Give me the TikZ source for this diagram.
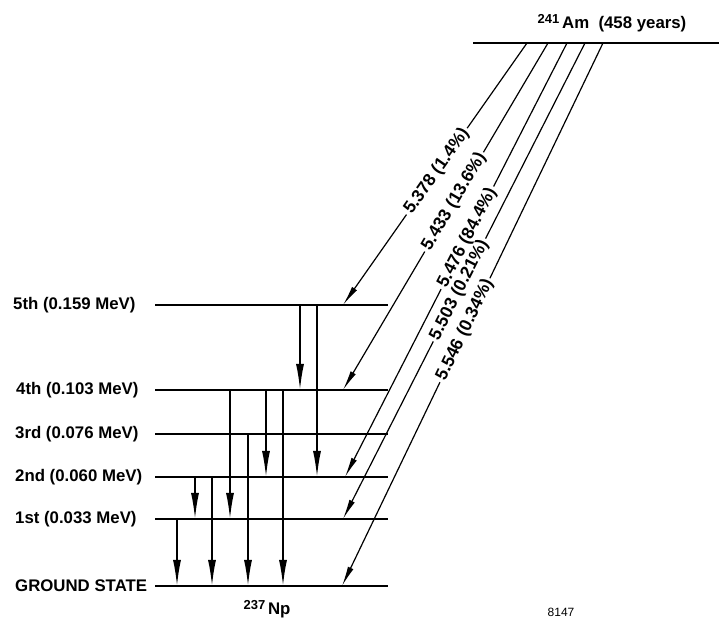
\documentclass[tikz,border=0pt]{standalone}
\usepackage{fontspec}
\setmainfont{Liberation Sans}
\usetikzlibrary{arrows.meta}
\newcommand{\isotope}[2]{\raisebox{0.5ex}{\fontsize{13}{15}\selectfont #1}\,#2}
\tikzset{
    level/.style={line width=2.4pt},
    gamma/.style={-{Latex[length=26pt,width=8pt]}, line width=1.6pt},
    alpha/.style={-{Latex[length=20pt,width=6pt]}, line width=1.2pt},
    decay/.style={sloped, inner sep=2.5pt, font=\fontsize{17.5}{20}\selectfont\bfseries},
    lvl/.style={anchor=west, inner sep=0pt, font=\fontsize{16.8}{19}\selectfont\bfseries}
}

\begin{document}
\begin{tikzpicture}[x=1pt, y=1pt]
    \useasboundingbox (0,0) rectangle (719,623);
    % Np-237 levels
    \foreach \n/\y in {0/37, 1/104, 2/146, 3/189, 4/233, 5/318} {
        \coordinate (L\n) at (155,\y); \coordinate (R\n) at (388,\y);
        \draw[level] (L\n) -- (R\n);
    }
    \node[lvl] (n5) at (13,318) {5th (0.159 MeV)};
    \node[lvl] (n4) at (16,233) {4th (0.103 MeV)};
    \node[lvl] (n3) at (15,189) {3rd (0.076 MeV)};
    \node[lvl] (n2) at (15,146) {2nd (0.060 MeV)};
    \node[lvl] (n1) at (15,104) {1st (0.033 MeV)};
    \node[lvl] (n0) at (15,37) {GROUND STATE};
    \node[font=\fontsize{16.8}{19}\selectfont\bfseries] (np) at (267,14) {\isotope{237}{Np}};
    \node[font=\fontsize{12}{14}\selectfont] (fig) at (561,11) {8147};

    % Am-241 level
    \coordinate (A) at (473,580); \coordinate (Ae) at (719,580);
    \draw[level] (A) -- (Ae);
    \node[font=\fontsize{16.8}{19}\selectfont\bfseries] (am) at (612,600) {\isotope{241}{Am}\ \ (458 years)};

    % alpha decays
    \foreach \i/\xs/\xe/\lv/\p/\txt in {1/527/343/5/0.49/{5.378 (1.4\%)},
            2/548/343/4/0.458/{5.433 (13.6\%)}, 3/567/345/2/0.449/{5.476 (84.4\%)},
            4/585/343/1/0.519/{5.503 (0.21\%)}, 5/603/342/0/0.529/{5.546 (0.34\%)}} {
        \coordinate (s\i) at (\xs,580); \coordinate (e\i) at (\xe,0 |- L\lv);
        \path (s\i) -- (e\i) node[decay, pos=\p] (d\i) {\txt};
        \draw[line width=1.2pt] (s\i) -- (d\i);
        \draw[alpha] (d\i) -- (e\i);
    }

    % gamma transitions
    \foreach \x/\a/\b in {300/5/4, 317/5/2, 230/4/1, 266/4/2, 283/4/0,
            248/3/0, 195/2/1, 212/2/0, 177/1/0}
        \draw[gamma] (\x,0 |- L\a) -- (\x,0 |- L\b);
\end{tikzpicture}
\end{document}
